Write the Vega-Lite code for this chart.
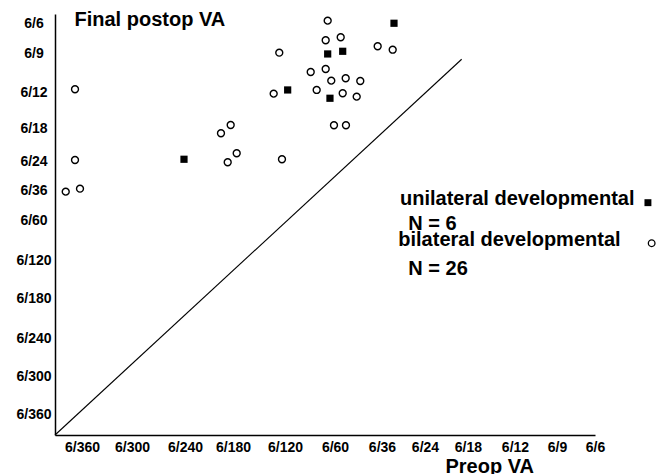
{
  "$schema": "https://vega.github.io/schema/vega-lite/v6.json",
  "width": 540,
  "height": 421,
  "autosize": {"type": "none"},
  "padding": {"left": 55, "top": 14, "right": 74, "bottom": 39},
  "background": "white",
  "config": {"view": {"stroke": null}, "font": "Liberation Sans"},
  "datasets": {
    "points": [
      {"group": "bilateral", "pre": 0.850, "post": 10.146},
      {"group": "bilateral", "pre": 3.980, "post": 8.911},
      {"group": "bilateral", "pre": 4.188, "post": 9.144},
      {"group": "bilateral", "pre": 0.850, "post": 8.161},
      {"group": "bilateral", "pre": 4.124, "post": 8.096},
      {"group": "bilateral", "pre": 4.317, "post": 8.349},
      {"group": "bilateral", "pre": 0.651, "post": 7.271},
      {"group": "bilateral", "pre": 0.957, "post": 7.355},
      {"group": "bilateral", "pre": 6.268, "post": 12.073},
      {"group": "bilateral", "pre": 6.225, "post": 11.522},
      {"group": "bilateral", "pre": 6.547, "post": 11.607},
      {"group": "bilateral", "pre": 5.230, "post": 11.174},
      {"group": "bilateral", "pre": 7.340, "post": 11.354},
      {"group": "bilateral", "pre": 7.662, "post": 11.258},
      {"group": "bilateral", "pre": 5.904, "post": 10.632},
      {"group": "bilateral", "pre": 6.225, "post": 10.716},
      {"group": "bilateral", "pre": 6.345, "post": 10.388},
      {"group": "bilateral", "pre": 6.654, "post": 10.455},
      {"group": "bilateral", "pre": 6.967, "post": 10.379},
      {"group": "bilateral", "pre": 5.110, "post": 10.023},
      {"group": "bilateral", "pre": 6.032, "post": 10.127},
      {"group": "bilateral", "pre": 6.590, "post": 10.034},
      {"group": "bilateral", "pre": 6.890, "post": 9.939},
      {"group": "bilateral", "pre": 6.403, "post": 9.135},
      {"group": "bilateral", "pre": 6.660, "post": 9.135},
      {"group": "bilateral", "pre": 5.288, "post": 8.181},
      {"group": "unilateral", "pre": 7.690, "post": 12.0},
      {"group": "unilateral", "pre": 6.268, "post": 11.138},
      {"group": "unilateral", "pre": 6.590, "post": 11.213},
      {"group": "unilateral", "pre": 5.410, "post": 10.127},
      {"group": "unilateral", "pre": 6.317, "post": 9.894},
      {"group": "unilateral", "pre": 3.187, "post": 8.181}
    ],
    "diag": [
      {"pre": 0.421, "post": 0.438},
      {"pre": 9.141, "post": 10.989}
    ],
    "legendText": [
      {"pre": 7.818, "post": 6.897, "label": "unilateral developmental"},
      {"pre": 7.996, "post": 6.195, "label": "N = 6"},
      {"pre": 7.782, "post": 5.746, "label": "bilateral developmental"},
      {"pre": 7.996, "post": 4.931, "label": "N = 26"}
    ],
    "legendMarks": [
      {"group": "unilateral", "pre": 13.135, "post": 6.962},
      {"group": "bilateral", "pre": 13.215, "post": 5.822}
    ]
  },
  "layer": [
    {
      "data": {"name": "diag"},
      "mark": {"type": "line", "color": "black", "strokeWidth": 1.1},
      "encoding": {
        "x": {
          "field": "pre",
          "type": "quantitative",
          "scale": {"domain": [0.421, 12.0], "nice": false, "zero": false},
          "axis": {
            "values": [1, 2.072, 3.208, 4.238, 5.353, 6.425, 7.432, 8.354, 9.276, 10.284, 11.184, 12],
            "tickCount": 30,
            "labelExpr": "['6/360','6/300','6/240','6/180','6/120','6/60','6/36','6/24','6/18','6/12','6/9','6/6'][indexof([1, 2.072, 3.208, 4.238, 5.353, 6.425, 7.432, 8.354, 9.276, 10.284, 11.184, 12], datum.value)]",
            "grid": false,
            "ticks": false,
            "tickSize": 0,
            "domainColor": "black",
            "domainWidth": 1.5,
            "labelFont": "Liberation Sans",
            "labelFontSize": 14,
            "labelFontWeight": "bold",
            "labelColor": "black",
            "labelAlign": "center",
            "labelBaseline": "top",
            "labelPadding": 5,
            "labelOverlap": false,
            "labelFlush": false,
            "labelBound": false,
            "title": "Preop VA",
            "titleFont": "Liberation Sans",
            "titleFontSize": 20,
            "titleFontWeight": "bold",
            "titleColor": "black",
            "titleAlign": "left",
            "titleAnchor": "start",
            "titleBaseline": "alphabetic",
            "titleX": 390,
            "titleY": 37
          }
        },
        "y": {
          "field": "post",
          "type": "quantitative",
          "scale": {"domain": [0.438, 12.26], "nice": false, "zero": false},
          "axis": {
            "values": [1, 2.076, 3.154, 4.257, 5.333, 6.456, 7.30, 8.113, 9.05, 10.05, 11.157, 12],
            "tickCount": 30,
            "labelExpr": "['6/360','6/300','6/240','6/180','6/120','6/60','6/36','6/24','6/18','6/12','6/9','6/6'][indexof([1, 2.076, 3.154, 4.257, 5.333, 6.456, 7.30, 8.113, 9.05, 10.05, 11.157, 12], datum.value)]",
            "grid": false,
            "ticks": false,
            "tickSize": 0,
            "domainColor": "black",
            "domainWidth": 1.5,
            "labelFont": "Liberation Sans",
            "labelFontSize": 14,
            "labelFontWeight": "bold",
            "labelColor": "black",
            "labelAlign": "center",
            "labelBaseline": "middle",
            "labelPadding": 21.5,
            "labelOverlap": false,
            "labelFlush": false,
            "labelBound": false,
            "title": "Final postop VA",
            "titleFont": "Liberation Sans",
            "titleFontSize": 20,
            "titleFontWeight": "bold",
            "titleColor": "black",
            "titleAngle": 0,
            "titleAlign": "left",
            "titleAnchor": "start",
            "titleBaseline": "alphabetic",
            "titleX": 19,
            "titleY": 11
          }
        }
      }
    },
    {
      "data": {"name": "points"},
      "transform": [{"filter": "datum.group === 'bilateral'"}],
      "mark": {"type": "point", "shape": "circle", "filled": false, "stroke": "black", "strokeWidth": 1.4, "size": 48, "opacity": 1},
      "encoding": {
        "x": {"field": "pre", "type": "quantitative"},
        "y": {"field": "post", "type": "quantitative"}
      }
    },
    {
      "data": {"name": "points"},
      "transform": [{"filter": "datum.group === 'unilateral'"}],
      "mark": {"type": "point", "shape": "square", "filled": true, "color": "black", "size": 52, "opacity": 1},
      "encoding": {
        "x": {"field": "pre", "type": "quantitative"},
        "y": {"field": "post", "type": "quantitative"}
      }
    },
    {
      "data": {"name": "legendMarks"},
      "transform": [{"filter": "datum.group === 'bilateral'"}],
      "mark": {"type": "point", "shape": "circle", "filled": false, "stroke": "black", "strokeWidth": 1.3, "size": 44, "opacity": 1},
      "encoding": {
        "x": {"field": "pre", "type": "quantitative"},
        "y": {"field": "post", "type": "quantitative"}
      }
    },
    {
      "data": {"name": "legendMarks"},
      "transform": [{"filter": "datum.group === 'unilateral'"}],
      "mark": {"type": "point", "shape": "square", "filled": true, "color": "black", "size": 48, "opacity": 1},
      "encoding": {
        "x": {"field": "pre", "type": "quantitative"},
        "y": {"field": "post", "type": "quantitative"}
      }
    },
    {
      "data": {"name": "legendText"},
      "mark": {"type": "text", "align": "left", "baseline": "alphabetic", "font": "Liberation Sans", "fontSize": 20, "fontWeight": "bold", "color": "black"},
      "encoding": {
        "x": {"field": "pre", "type": "quantitative"},
        "y": {"field": "post", "type": "quantitative"},
        "text": {"field": "label", "type": "nominal"}
      }
    }
  ]
}
